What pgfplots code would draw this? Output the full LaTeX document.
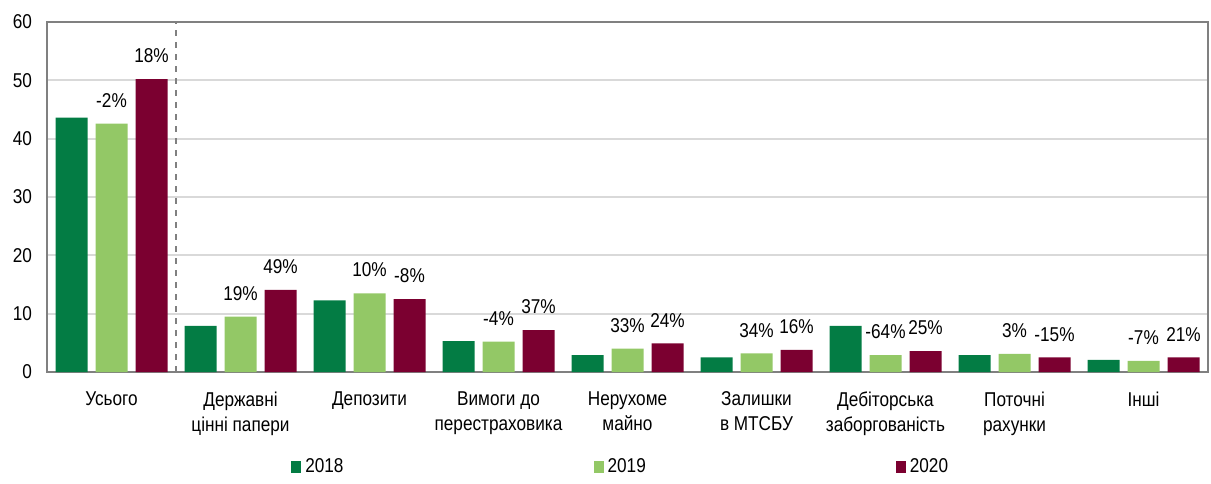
\documentclass[border=0pt]{standalone}
\usepackage{pgfplots}
\pgfplotsset{compat=1.18}
\usepackage{fontspec}
\setmainfont{Liberation Sans}[FakeStretch=0.86]

\definecolor{dgreen}{HTML}{037C44}
\definecolor{lgreen}{HTML}{93C866}
\definecolor{maroon}{HTML}{7B0030}
\definecolor{axgray}{HTML}{808080}
\definecolor{grd}{HTML}{D9D9D9}

\begin{document}
\begin{tikzpicture}[font=\fontsize{10}{12.5}\selectfont]
\begin{axis}[
    scale only axis,
    width=580.5pt, height=175pt,
    ybar=4pt, bar width=16pt,
    xmin=-0.5, xmax=8.5,
    ymin=0, ymax=60,
    ytick={0,10,...,60},
    xtick={0,...,8},
    xticklabels={Усього, Державні\\цінні папери, Депозити, Вимоги до\\перестраховика,
        Нерухоме\\майно, Залишки\\в МТСБУ, Дебіторська\\заборгованість,
        Поточні\\рахунки, Інші},
    xticklabel style={align=center, yshift=-2pt},
    yticklabel style={xshift=-4pt},
    xtick style={draw=none}, ytick style={draw=none},
    extra x ticks={1.5,2.5,...,7.5},
    extra x tick labels={},
    extra x tick style={major tick length=4pt, tick align=inside, tick pos=bottom,
        tick style={draw=axgray, line width=1pt}},
    ymajorgrids, grid style={draw=grd, line width=1pt},
    axis line style={draw=axgray, line width=1pt},
    /pgf/number format/assume math mode=true,
    clip=false,
    legend columns=3,
    legend style={draw=none, at={(0.495,-0.271)}, anchor=center,
        /tikz/every even column/.append style={column sep=123pt}},
    legend image code/.code={\fill[#1] (0pt,-3pt) rectangle (5pt,3pt);},
    nodes near coords style={yshift=4.5pt},
]
\addplot[fill=dgreen, draw=none] coordinates {
    (0,43.6) (1,7.9) (2,12.3) (3,5.3) (4,2.9) (5,2.5) (6,7.9) (7,2.9) (8,2.1)
};
\addplot[fill=lgreen, draw=none, point meta=explicit symbolic, nodes near coords] coordinates {
    (0,42.6) [-2\%] (1,9.5) [19\%] (2,13.5) [10\%] (3,5.2) [-4\%] (4,4.0) [33\%]
    (5,3.2) [34\%] (6,2.9) [-64\%] (7,3.1) [3\%] (8,1.9) [-7\%]
};
\addplot[fill=maroon, draw=none, point meta=explicit symbolic, nodes near coords] coordinates {
    (0,50.2) [18\%] (1,14.1) [49\%] (2,12.5) [-8\%] (3,7.2) [37\%] (4,4.9) [24\%]
    (5,3.8) [16\%] (6,3.6) [25\%] (7,2.5) [-15\%] (8,2.5) [21\%]
};
\legend{2018, 2019, 2020}
\draw[axgray, dashed, line width=1pt] (axis cs:0.5,0) -- (axis cs:0.5,60);
\coordinate (bl) at (rel axis cs:-0.0405,-0.3086);
\coordinate (tr) at (rel axis cs:1.0026,1.0629);
\end{axis}
\path (bl) rectangle (tr);
\end{tikzpicture}
\end{document}
